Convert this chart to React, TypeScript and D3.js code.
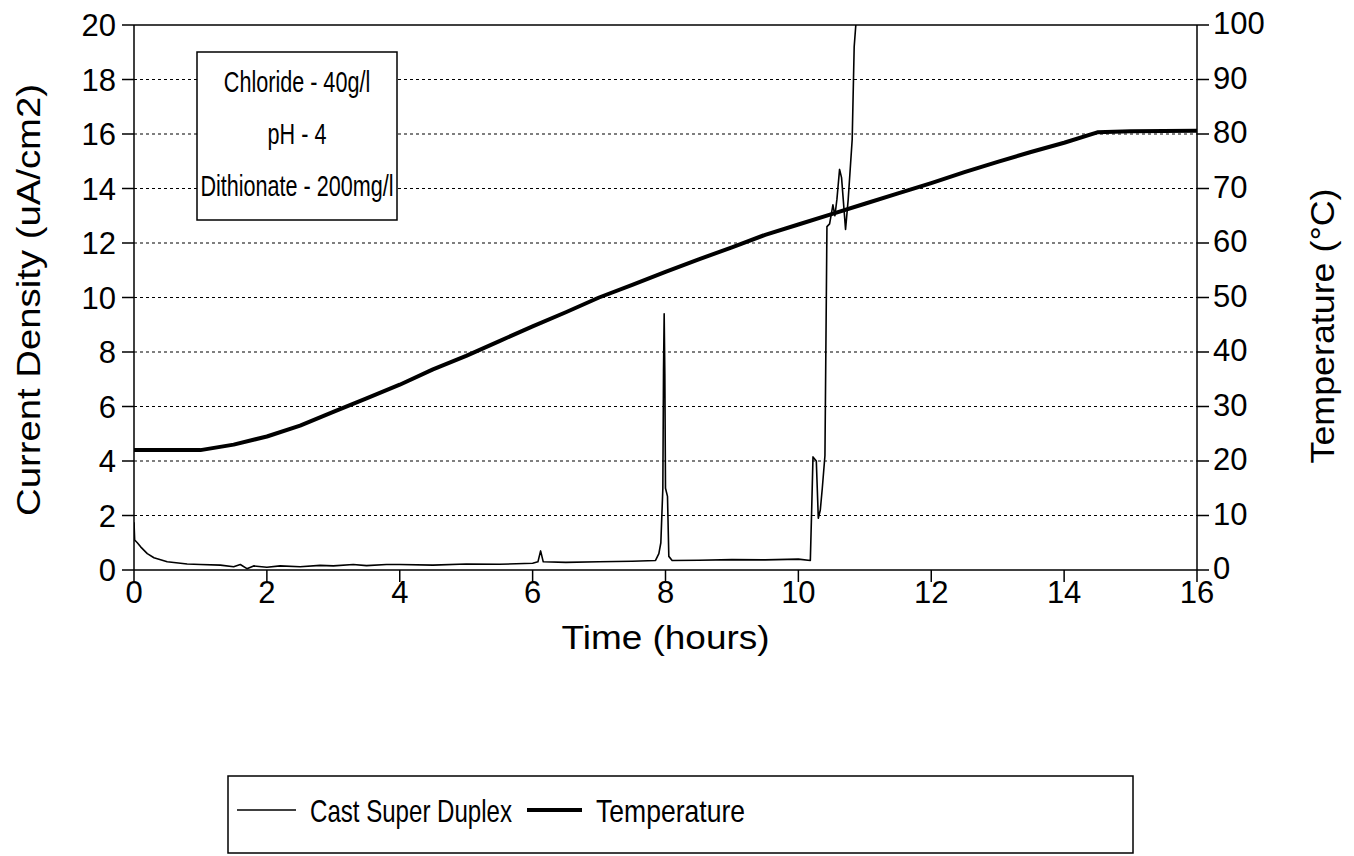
import * as d3 from "d3";

// time axis (hours)
const timeTicks = [0, 2, 4, 6, 8, 10, 12, 14, 16];
const currentTicks = [0, 2, 4, 6, 8, 10, 12, 14, 16, 18, 20];
const tempTicks = [0, 10, 20, 30, 40, 50, 60, 70, 80, 90, 100];

// Cast Super Duplex current density (uA/cm2)
const cdTime = [
  0, 0.01, 0.05, 0.1, 0.2, 0.3, 0.5, 0.8, 1.0, 1.3, 1.5, 1.6, 1.7, 1.8, 2.0, 2.2, 2.5, 2.8, 3.0,
  3.3, 3.5, 3.8, 4.0, 4.5, 5.0, 5.5, 6.0, 6.08, 6.12, 6.16, 6.5, 7.0, 7.5, 7.85, 7.9, 7.93, 7.96,
  7.97, 7.98, 7.99, 8.0, 8.03, 8.05, 8.1, 8.5, 9.0, 9.5, 10.0, 10.18, 10.2, 10.22, 10.27, 10.3,
  10.33, 10.36, 10.4, 10.43, 10.47, 10.52, 10.55, 10.58, 10.62, 10.65, 10.71, 10.75, 10.81, 10.84, 10.88,
];
const cdValue = [
  1.75, 1.1, 1.0, 0.85, 0.6, 0.45, 0.3, 0.22, 0.2, 0.18, 0.12, 0.2, 0.05, 0.15, 0.1, 0.15, 0.12, 0.17, 0.15,
  0.2, 0.16, 0.2, 0.2, 0.18, 0.22, 0.21, 0.25, 0.3, 0.7, 0.3, 0.28, 0.3, 0.32, 0.35, 0.6, 1.0, 3.0,
  7.3, 9.4, 7.2, 3.0, 2.7, 0.5, 0.35, 0.36, 0.38, 0.37, 0.4, 0.35, 2.2, 4.15, 4.0, 1.9,
  2.2, 3.0, 4.2, 12.6, 12.7, 13.4, 13.0, 13.6, 14.7, 14.4, 12.5, 13.6, 15.8, 19.2, 20.5,
];

// Temperature (°C)
const tempTime = [
  0, 1.0, 1.5, 2.0, 2.5, 3.0, 3.5, 4.0, 4.5, 5.0, 5.5, 6.0, 6.5, 7.0, 7.5, 8.0, 8.5, 9.0, 9.5, 10.0,
  10.5, 11.0, 11.5, 12.0, 12.5, 13.0, 13.5, 14.0, 14.5, 15.0, 16.0,
];
const tempValue = [
  22, 22, 23, 24.5, 26.5, 29, 31.5, 34, 36.8, 39.3, 42, 44.7, 47.3, 50, 52.3, 54.7, 57, 59.2, 61.5, 63.4,
  65.3, 67.2, 69.1, 71, 73, 74.9, 76.7, 78.4, 80.3, 80.5, 80.6,
];

const inset = ["Chloride - 40g/l", "pH - 4", "Dithionate - 200mg/l"];
const legendNames = ["Cast Super Duplex", "Temperature"];

export default function App() {
  const width = 1354, height = 856;
  const left = 134, right = 1197, top = 25, bottom = 570;
  const font = "'Liberation Sans', Arial, sans-serif";

  const x = d3.scaleLinear([0, 16], [left, right]);
  const y = d3.scaleLinear([0, 20], [bottom, top]);
  const y2 = d3.scaleLinear([0, 100], [bottom, top]);

  const cdLine = d3.line<number>()
    .x((d, i) => x(cdTime[i]))
    .y(d => y(d));
  const tempLine = d3.line<number>()
    .x((d, i) => x(tempTime[i]))
    .y(d => y2(d));

  return (
    <svg width={width} height={height} style={{ position: "absolute", left: 0, top: 0, background: "white" }}
      fontFamily={font}>
      <defs>
        <clipPath id="plot">
          <rect x={left} y={top} width={right - left} height={bottom - top} />
        </clipPath>
      </defs>

      {/* grid lines */}
      {currentTicks.slice(1, -1).map(t => (
        <line key={"g" + t} x1={left} x2={right} y1={y(t)} y2={y(t)}
          stroke="black" strokeWidth={1.2} strokeDasharray="3,3" />
      ))}
      <line x1={left} x2={right} y1={top} y2={top} stroke="black" strokeWidth={1.5} />

      {/* left axis */}
      <line x1={left} x2={left} y1={top} y2={bottom} stroke="black" strokeWidth={1.5} />
      {currentTicks.map(t => (
        <g key={"l" + t}>
          <line x1={left - 12} x2={left} y1={y(t)} y2={y(t)} stroke="black" strokeWidth={1.5} />
          <text x={left - 18} y={y(t)} dy="0.36em" textAnchor="end" fontSize={31}>{t}</text>
        </g>
      ))}

      {/* right axis */}
      <line x1={right} x2={right} y1={top} y2={bottom} stroke="black" strokeWidth={1.5} />
      {tempTicks.map(t => (
        <g key={"r" + t}>
          <line x1={right} x2={right + 12} y1={y2(t)} y2={y2(t)} stroke="black" strokeWidth={1.5} />
          <text x={right + 16} y={y2(t)} dy="0.3em" textAnchor="start" fontSize={31}>{t}</text>
        </g>
      ))}

      {/* bottom axis */}
      <line x1={left} x2={right} y1={bottom} y2={bottom} stroke="black" strokeWidth={1.5} />
      {timeTicks.map(t => (
        <g key={"b" + t}>
          <line x1={x(t)} x2={x(t)} y1={bottom} y2={bottom + 12} stroke="black" strokeWidth={1.5} />
          <text x={x(t)} y={bottom + 33} textAnchor="middle" fontSize={31}>{t}</text>
        </g>
      ))}

      {/* axis titles */}
      <text x={x(8)} y={649} textAnchor="middle" fontSize={34} textLength={208} lengthAdjust="spacingAndGlyphs">
        Time (hours)
      </text>
      <text transform={`translate(40,300) rotate(-90)`} textAnchor="middle" fontSize={34}
        textLength={432} lengthAdjust="spacingAndGlyphs">
        Current Density (uA/cm2)
      </text>
      <text transform={`translate(1334,326) rotate(-90)`} textAnchor="middle" fontSize={34}
        textLength={275} lengthAdjust="spacingAndGlyphs">
        Temperature (°C)
      </text>

      {/* series */}
      <g clipPath="url(#plot)">
        <path d={cdLine(cdValue) ?? ""} fill="none" stroke="black" strokeWidth={1.6} strokeLinejoin="round" />
        <path d={tempLine(tempValue) ?? ""} fill="none" stroke="black" strokeWidth={4} strokeLinejoin="round" />
      </g>

      {/* inset box */}
      <rect x={197} y={52} width={200} height={168} fill="white" stroke="black" strokeWidth={1.5} />
      {inset.map((s, i) => (
        <text key={s} x={297} y={92 + i * 52} textAnchor="middle" fontSize={30}
          transform={`translate(297,0) scale(0.72,1) translate(-297,0)`}>{s}</text>
      ))}

      {/* legend */}
      <rect x={228} y={776} width={905} height={77} fill="white" stroke="black" strokeWidth={1.5} />
      <line x1={237} x2={296} y1={810} y2={810} stroke="black" strokeWidth={1.5} />
      <text x={310} y={822} fontSize={32} textLength={202} lengthAdjust="spacingAndGlyphs">{legendNames[0]}</text>
      <line x1={527} x2={582} y1={810} y2={810} stroke="black" strokeWidth={4} />
      <text x={596} y={822} fontSize={32} textLength={149} lengthAdjust="spacingAndGlyphs">{legendNames[1]}</text>
    </svg>
  );
}
